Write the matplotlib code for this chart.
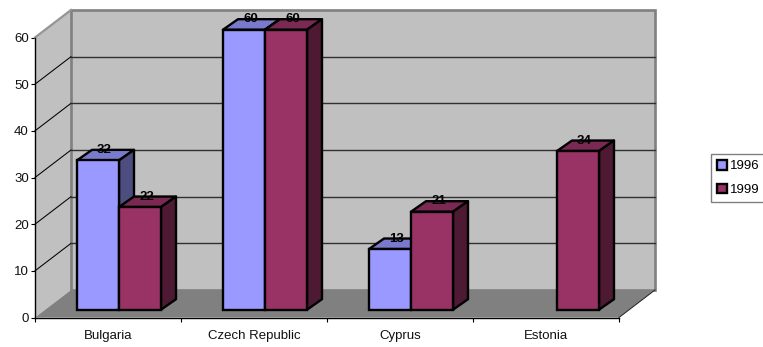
import numpy as np
import matplotlib
matplotlib.use('Agg')
import matplotlib.pyplot as plt
from matplotlib.patches import Polygon, Patch

plt.rcParams['font.family'] = ['Liberation Sans', 'DejaVu Sans']

# Chart data
countries = ['Bulgaria', 'Czech Republic', 'Cyprus', 'Estonia']
values_1996 = [32, 60, 13, np.nan]
values_1999 = [22, 60, 21, 34]
y_ticks = [0, 10, 20, 30, 40, 50, 60]

color_1996 = '#9999FF'
color_1999 = '#993366'
top_1996 = '#7A7ACC'
top_1999 = '#7A2952'
side_1996 = '#4D4D80'
side_1999 = '#4D1933'

# One category is 146 px wide, one value unit is 4.667 px tall
W, H = 763, 347
x_unit = 146.0
y_unit = 280 / 60
x0_px, y0_px = 35.0, 317.5

# Shear of the chart box and of the bars, in data units
wall_dx, wall_dy = 36 / x_unit, 27.5 / y_unit
bar_dx, bar_dy = 15 / x_unit, 10.5 / y_unit
front_dy = 7.8 / y_unit
bar_w = 42 / x_unit
n = len(countries)
edge_lw = 1.7

fig = plt.figure(figsize=(W / 100, H / 100), dpi=100)
ax = fig.add_axes([0, 0, 1, 1])
ax.set_xlim(-x0_px / x_unit, (W - x0_px) / x_unit)
ax.set_ylim(-(H - y0_px) / y_unit, y0_px / y_unit)
ax.patch.set_visible(False)

top = y_ticks[-1]
grey = '#808080'

# Left wall, back wall and floor
ax.add_patch(Polygon([(0, 0), (wall_dx, wall_dy), (wall_dx, top + wall_dy), (0, top)],
                     facecolor='#C0C0C0', edgecolor='none', zorder=1))
ax.add_patch(Polygon([(wall_dx, wall_dy), (n + wall_dx, wall_dy),
                      (n + wall_dx, top + wall_dy), (wall_dx, top + wall_dy)],
                     facecolor='#C0C0C0', edgecolor=grey, lw=1.9, zorder=1.5))
ax.plot([0, wall_dx], [top, top + wall_dy], color='#959595', lw=1.6, zorder=1.6)
ax.add_patch(Polygon([(0, 0), (n, 0), (n + wall_dx, wall_dy), (wall_dx, wall_dy)],
                     facecolor=grey, edgecolor='none', zorder=2))
ax.plot([n, n + wall_dx], [0, wall_dy], color='#202020', lw=0.7, zorder=2.1)

# Gridlines along both walls
for t in y_ticks[1:-1]:
    ax.plot([0, wall_dx], [t, t + wall_dy], color='black', lw=0.75, zorder=2.2)
    ax.plot([wall_dx, n + wall_dx], [t + wall_dy, t + wall_dy], color='#303030', lw=1.0, zorder=2.2)


def draw_series(values, offset, face, top_face, side_face, z):
    xs = np.arange(n) + offset
    ax.bar(xs, values, width=bar_w, bottom=front_dy, align='edge',
           color=face, edgecolor='black', linewidth=edge_lw, zorder=z + 0.2)
    for x, v in zip(xs, values):
        if np.isnan(v):
            continue
        y = front_dy + v
        ax.add_patch(Polygon([(x, y), (x + bar_w, y), (x + bar_w + bar_dx, y + bar_dy), (x + bar_dx, y + bar_dy)],
                             facecolor=top_face, edgecolor='black', lw=edge_lw, joinstyle='round', zorder=z))
        ax.add_patch(Polygon([(x + bar_w, front_dy), (x + bar_w + bar_dx, front_dy + bar_dy),
                              (x + bar_w + bar_dx, y + bar_dy), (x + bar_w, y)],
                             facecolor=side_face, edgecolor='black', lw=edge_lw, joinstyle='round', zorder=z))
        ax.text(x + bar_w / 2 + 6.5 / x_unit, y + bar_dy, f'{v:.0f}', ha='center', va='center',
                fontsize=9.5, fontweight='bold', color='black', zorder=10)


draw_series(values_1996, bar_w, color_1996, top_1996, side_1996, 3)
draw_series(values_1999, 2 * bar_w, color_1999, top_1999, side_1999, 4)

# Axes lines and ticks
for s in ['top', 'right']:
    ax.spines[s].set_visible(False)
ax.spines['left'].set_position(('data', 0))
ax.spines['bottom'].set_position(('data', 0))
ax.spines['left'].set_bounds(0, top)
ax.spines['bottom'].set_bounds(0, n)
for s in ['left', 'bottom']:
    ax.spines[s].set_linewidth(1.0)
    ax.spines[s].set_zorder(5)

ax.set_yticks(y_ticks)
ax.set_xticks(np.arange(n + 1))
ax.set_xticklabels([])
ax.set_xticks(np.arange(n) + 0.5, minor=True)
ax.set_xticklabels(countries, minor=True)
ax.tick_params(axis='x', which='major', length=3, width=0.8, direction='out')
ax.tick_params(axis='x', which='minor', length=0, pad=9, labelsize=9.5, labelcolor='#111111')
ax.tick_params(axis='y', length=3, width=0.8, pad=1.5, labelsize=9.5, labelcolor='#111111')

# Legend at the right edge
handles = [Patch(facecolor=color_1996, edgecolor='black', lw=edge_lw, label='1996'),
           Patch(facecolor=color_1999, edgecolor='black', lw=edge_lw, label='1999')]
ax.legend(handles=handles, loc='upper left', bbox_to_anchor=(711 / W, 1 - 154 / H),
          bbox_transform=fig.transFigure, fontsize=9.5, frameon=True, fancybox=False,
          edgecolor=grey, framealpha=1, borderaxespad=0, borderpad=0.45,
          handlelength=0.75, handleheight=0.75, handletextpad=0.2, labelspacing=0.85)

fig.savefig('out.png', dpi=100)
